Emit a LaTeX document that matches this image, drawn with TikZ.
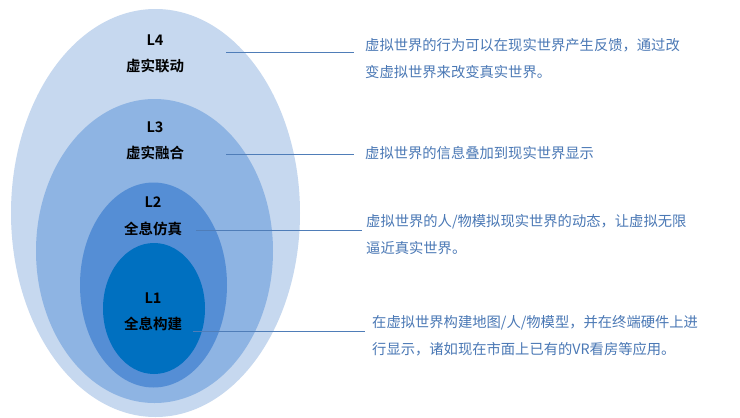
\documentclass[tikz,border=0pt]{standalone}
\usepackage{fontspec}
\setmainfont{Noto Sans CJK SC}
\newfontfamily\cjk{Noto Sans CJK SC}
\newfontfamily\cjkb{Noto Sans CJK SC Bold}
\definecolor{cA}{HTML}{C6D8EF}
\definecolor{cB}{HTML}{8EB4E3}
\definecolor{cC}{HTML}{558ED5}
\definecolor{cD}{HTML}{0070C0}
\definecolor{txt}{HTML}{4A78B5}
\definecolor{ln}{HTML}{4F7DB8}
\begin{document}
\begin{tikzpicture}[x=1pt,y=-1pt,
  lvl/.style={font=\cjkb\fontsize{14.5}{16}\selectfont, text=black, inner sep=0pt},
  desc/.style={font=\cjk\fontsize{14.3}{27}\selectfont, text=txt, anchor=west, align=left, inner sep=0pt},
  conn/.style={draw=ln, line width=0.8pt}]
\useasboundingbox (0,0) rectangle (740,418);
\fill[white] (0,0) rectangle (740,418);
% ellipses
\fill[cA] (155.5,213) ellipse [x radius=144.5, y radius=204];
\fill[cB] (154.5,251) ellipse [x radius=118.5, y radius=152];
\fill[cC] (153.5,285) ellipse [x radius=73.5, y radius=102.5];
\fill[cD] (154,308.5) ellipse [x radius=51, y radius=65.5];
% level labels
\node[lvl] (l4) at (155,40) {L4};
\node[lvl] (n4) at (155,66) {虚实联动};
\node[lvl] (l3) at (155,127) {L3};
\node[lvl] (n3) at (155,153) {虚实融合};
\node[lvl] (l2) at (153,202) {L2};
\node[lvl] (n2) at (153,229) {全息仿真};
\node[lvl] (l1) at (153,298) {L1};
\node[lvl] (n1) at (153,324) {全息构建};
% descriptions
\node[desc] (d4) at (365,58.5) {虚拟世界的行为可以在现实世界产生反馈，通过改\\变虚拟世界来改变真实世界。};
\node[desc] (d3) at (365,153) {虚拟世界的信息叠加到现实世界显示};
\node[desc] (d2) at (366,234.5) {虚拟世界的人/物模拟现实世界的动态，让虚拟无限\\逼近真实世界。};
\node[desc] (d1) at (372,336) {在虚拟世界构建地图/人/物模型，并在终端硬件上进\\行显示，诸如现在市面上已有的VR看房等应用。};
% connectors
\coordinate (s4) at (226,52);  \coordinate (e4) at (354,52);
\coordinate (s3) at (226,154.5); \coordinate (e3) at (354,154.5);
\coordinate (s2) at (196,230); \coordinate (e2) at (362,230);
\coordinate (s1) at (193,331); \coordinate (e1) at (365,331);
\draw[conn] (s4) -- (e4);
\draw[conn] (s3) -- (e3);
\draw[conn] (s2) -- (e2);
\draw[conn] (s1) -- (e1);
\end{tikzpicture}
\end{document}
